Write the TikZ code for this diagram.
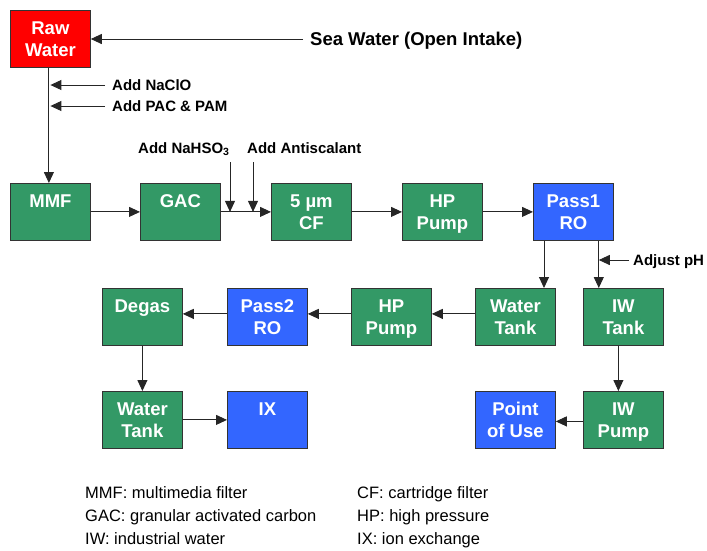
\documentclass[tikz,border=0pt]{standalone}
\usepackage{fontspec}
\setmainfont{Liberation Sans}
\usetikzlibrary{arrows.meta}
\definecolor{boxgreen}{HTML}{339966}
\definecolor{boxblue}{HTML}{3366FF}
\definecolor{boxred}{HTML}{FF0000}
\begin{document}
\begin{tikzpicture}[x=1pt,y=-1pt,
 procbox/.style={draw=black!80, line width=0.8pt, minimum width=80pt, minimum height=57pt, anchor=north west, inner sep=0pt},
 gbox/.style={procbox, fill=boxgreen},
 bbox/.style={procbox, fill=boxblue},
 rbox/.style={procbox, fill=boxred},
 boxlbl/.style={text=white, font=\fontsize{18.5}{21.5}\selectfont\bfseries, align=center, anchor=base, inner sep=0pt},
 addlbl/.style={font=\fontsize{15}{18}\selectfont\bfseries, anchor=base west, inner sep=0pt},
 sealbl/.style={font=\fontsize{18.5}{21.5}\selectfont\bfseries, anchor=base west, inner sep=0pt},
 legend/.style={font=\fontsize{16.5}{20}\selectfont, anchor=base west, inner sep=0pt},
 arr/.style={-{Triangle[length=11pt,width=10pt]}, line width=0.9pt, draw=black!85},
]
\useasboundingbox (0,0) rectangle (707,550);
% boxes
\node[rbox] (raw) at (10,10) {};
\node[gbox] (mmf) at (10,183) {};
\node[gbox] (gac) at (140,183) {};
\node[gbox] (cf) at (271,183) {};
\node[gbox] (hp1) at (402,183) {};
\node[bbox] (pass1) at (533,183) {};
\node[gbox] (degas) at (102,288) {};
\node[bbox] (pass2) at (227,288) {};
\node[gbox] (hp2) at (351,288) {};
\node[gbox] (wt1) at (475,288) {};
\node[gbox] (iwt) at (583,288) {};
\node[gbox] (wt2) at (102,391) {};
\node[bbox] (ix) at (227,391) {};
\node[bbox] (pou) at (475,391) {};
\node[gbox] (iwp) at (583,391) {};
% box labels (base anchor = last line)
\node[boxlbl] (rawl) at ([yshift=-46pt]raw.north) {Raw\\Water};
\node[boxlbl] (mmfl) at ([yshift=-24.5pt]mmf.north) {MMF};
\node[boxlbl] (gacl) at ([yshift=-24.5pt]gac.north) {GAC};
\node[boxlbl] (cfl) at ([yshift=-46pt]cf.north) {5 µm\\CF};
\node[boxlbl] (hp1l) at ([yshift=-46pt]hp1.north) {HP\\Pump};
\node[boxlbl] (pass1l) at ([yshift=-46pt]pass1.north) {Pass1\\RO};
\node[boxlbl] (degasl) at ([yshift=-24.5pt]degas.north) {Degas};
\node[boxlbl] (pass2l) at ([yshift=-46pt]pass2.north) {Pass2\\RO};
\node[boxlbl] (hp2l) at ([yshift=-46pt]hp2.north) {HP\\Pump};
\node[boxlbl] (wt1l) at ([yshift=-46pt]wt1.north) {Water\\Tank};
\node[boxlbl] (iwtl) at ([yshift=-46pt]iwt.north) {IW\\Tank};
\node[boxlbl] (wt2l) at ([yshift=-46pt]wt2.north) {Water\\Tank};
\node[boxlbl] (ixl) at ([yshift=-24.5pt]ix.north) {IX};
\node[boxlbl] (poul) at ([yshift=-46pt]pou.north) {Point\\of Use};
\node[boxlbl] (iwpl) at ([yshift=-46pt]iwp.north) {IW\\Pump};
% side labels
\node[sealbl] (sea) at (310,45.7) {Sea Water (Open Intake)};
\node[addlbl] (naclo) at (112,90.4) {Add NaClO};
\node[addlbl] (pac) at (112,111.4) {Add PAC \& PAM};
\node[addlbl] (nahso) at (138,153.5) {Add NaHSO\textsubscript{3}};
\node[addlbl] (anti) at (247,153.5) {Add Antiscalant};
\node[addlbl] (ph) at (633,265.5) {Adjust pH};
% connector start points
\coordinate (sea-s) at (303,39);
\coordinate (naclo-s) at (105,85);
\coordinate (pac-s) at (105,106);
\coordinate (nahso-s) at (230,162);
\coordinate (anti-s) at (253,162);
\coordinate (ph-s) at (629,260);
\coordinate (rotap) at ([xshift=11pt]pass1.south west);
\coordinate (iwtap) at ([xshift=-15pt]pass1.south east);
% connectors
\draw[arr] (sea-s) -- (sea-s -| raw.east);
\draw[arr] ([xshift=-1.5pt]raw.south) -- ([xshift=-1.5pt]mmf.north);
\draw[arr] (naclo-s) -- (naclo-s -| mmf.north);
\draw[arr] (pac-s) -- (pac-s -| mmf.north);
\draw[arr] (mmf.east) -- (gac.west);
\draw[arr] (gac.east) -- (cf.west);
\draw[arr] (nahso-s) -- (nahso-s |- gac.east);
\draw[arr] (anti-s) -- (anti-s |- gac.east);
\draw[arr] (cf.east) -- (hp1.west);
\draw[arr] (hp1.east) -- (pass1.west);
\draw[arr] (rotap) -- (rotap |- wt1.north);
\draw[arr] (iwtap) -- (iwtap |- iwt.north);
\draw[arr] (ph-s) -- (ph-s -| iwtap);
\draw[arr] ([yshift=3pt]wt1.west) -- ([yshift=3pt]hp2.east);
\draw[arr] ([yshift=3pt]hp2.west) -- ([yshift=3pt]pass2.east);
\draw[arr] ([yshift=3pt]pass2.west) -- ([yshift=3pt]degas.east);
\draw[arr] (degas.south) -- (wt2.north);
\draw[arr] (wt2.east) -- (ix.west);
\draw[arr] ([xshift=-5pt]iwt.south) -- ([xshift=-5pt]iwp.north);
\draw[arr] ([yshift=-1.5pt]iwp.west) -- ([yshift=-1.5pt]pou.east);
% legend
\node[legend] (lg1) at (85,498) {MMF: multimedia filter};
\node[legend] (lg2) at (85,521) {GAC: granular activated carbon};
\node[legend] (lg3) at (85,544) {IW: industrial water};
\node[legend] (lg4) at (357,498) {CF: cartridge filter};
\node[legend] (lg5) at (357,521) {HP: high pressure};
\node[legend] (lg6) at (357,544) {IX: ion exchange};
\end{tikzpicture}
\end{document}
